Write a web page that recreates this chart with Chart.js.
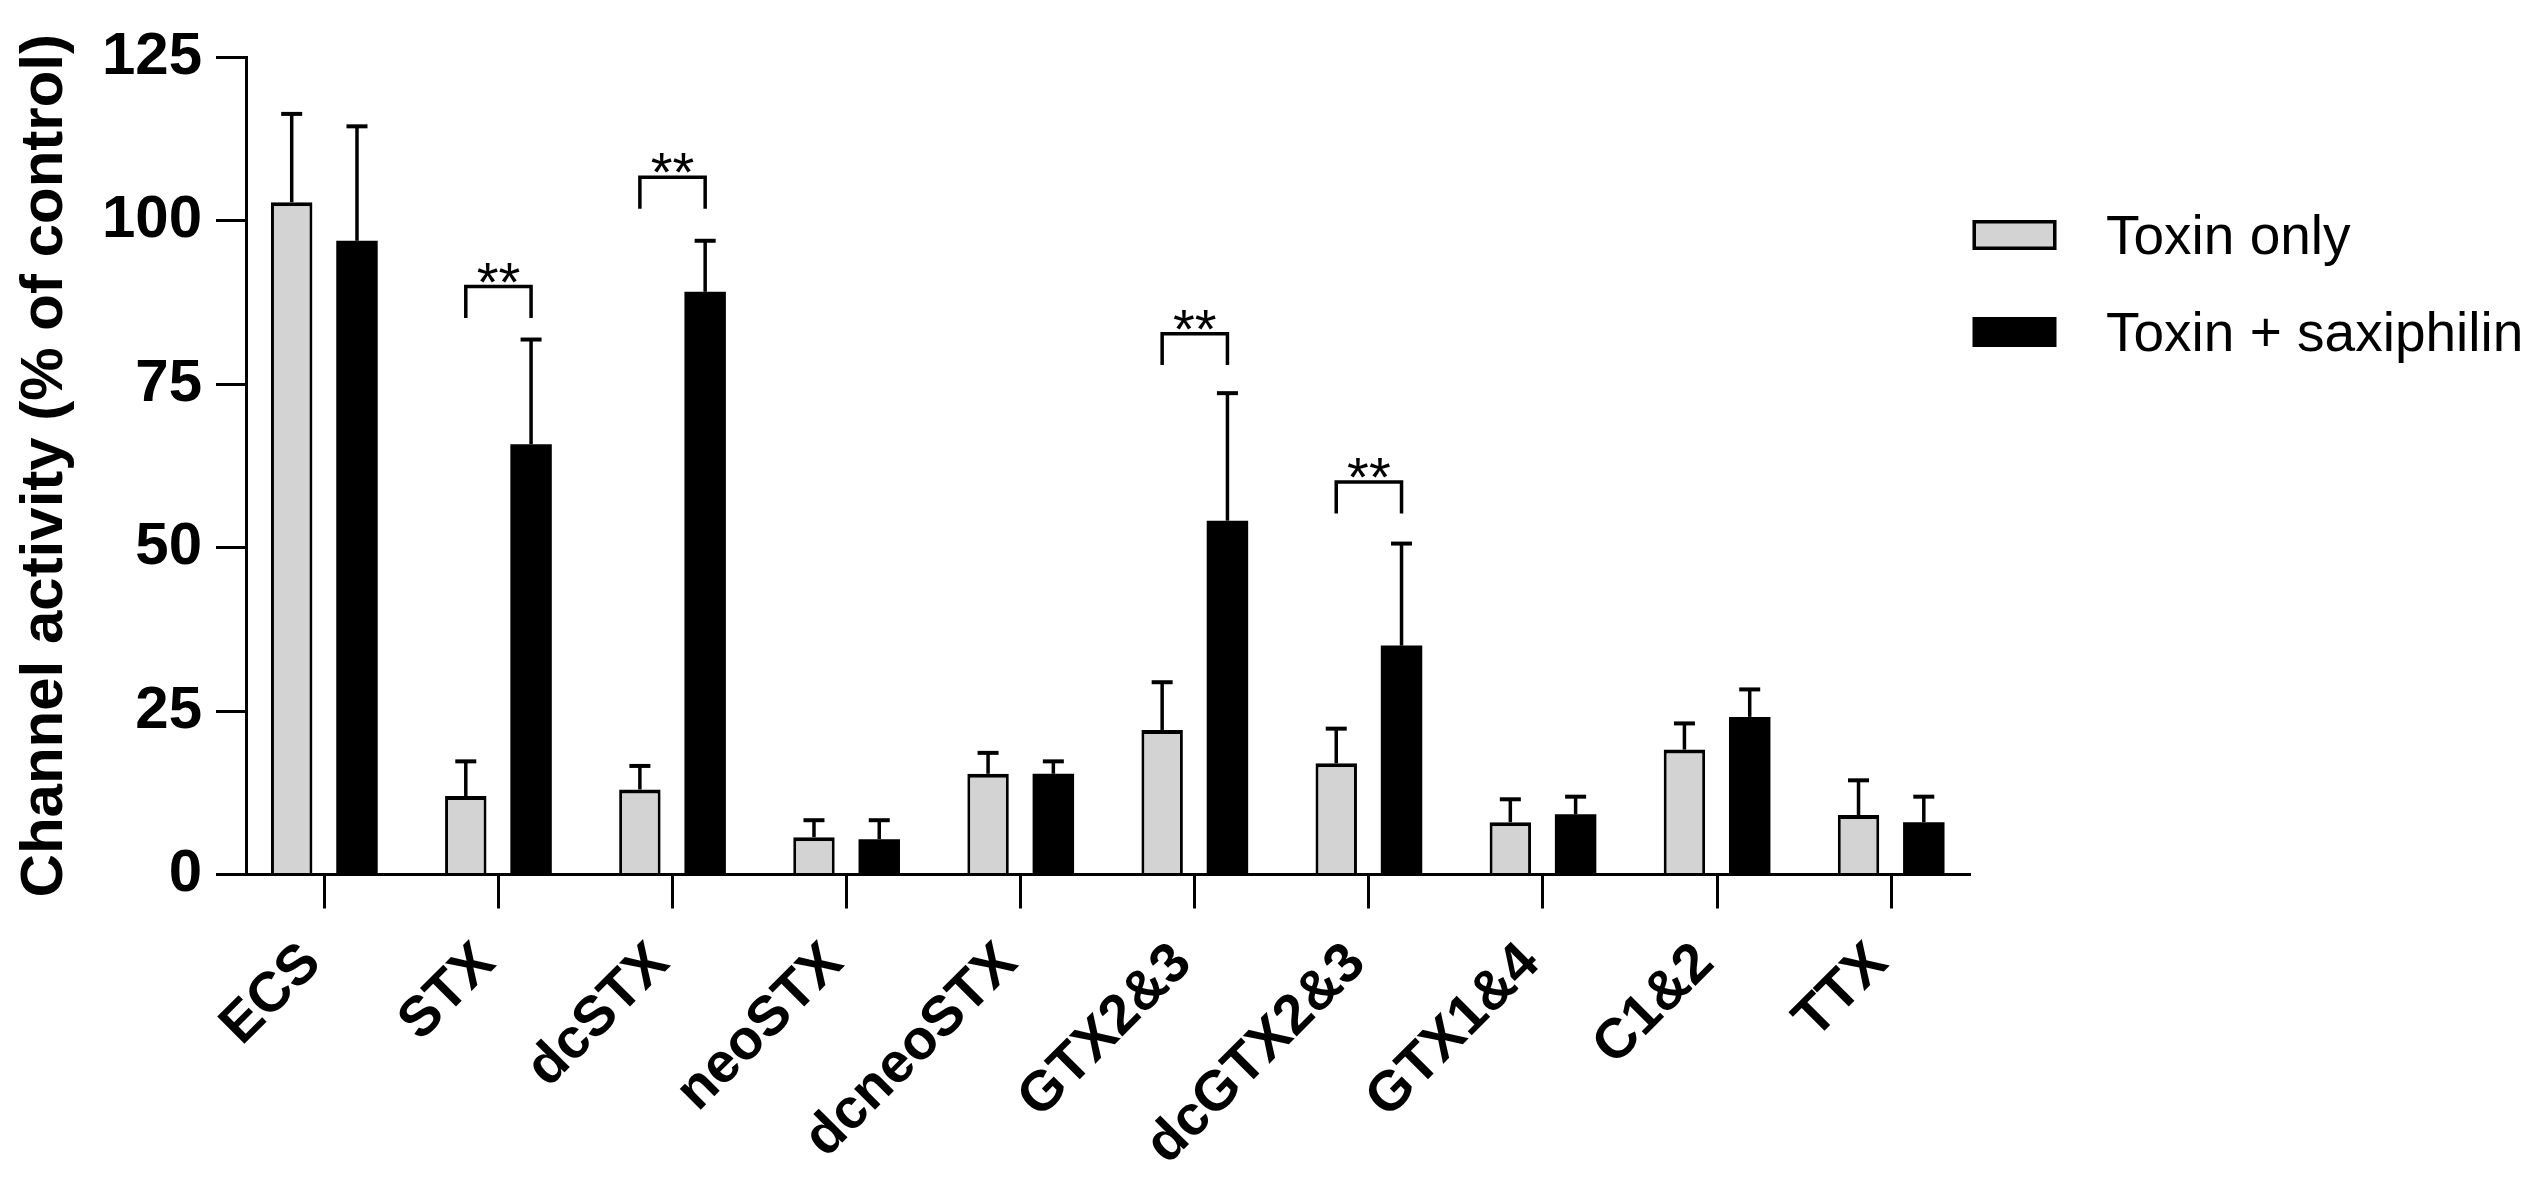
<!DOCTYPE html>
<html>
<head>
<meta charset="utf-8">
<script src="https://cdn.jsdelivr.net/npm/chart.js@4.4.1/dist/chart.umd.min.js"></script>
<style>
  html, body { margin: 0; padding: 0; background: #fff; }
  canvas { display: block; }
</style>
</head>
<body>
<canvas id="barChart" width="2545" height="1178"></canvas>
<script>
// values (% of control), error = upper SEM
var categories = ['ECS','STX','dcSTX','neoSTX','dcneoSTX','GTX2&3','dcGTX2&3','GTX1&4','C1&2','TTX']
var toxinOnly = [102.8, 12.0, 13.0, 5.7, 15.4, 22.1, 17.0, 8.0, 19.1, 9.1]
var toxinOnlyErr = [13.5, 5.3, 3.6, 2.6, 3.2, 7.3, 5.3, 3.5, 4.0, 5.3]
var toxinSax = [96.9, 65.8, 89.1, 5.4, 15.4, 54.1, 35.0, 9.2, 24.1, 8.0]
var toxinSaxErr = [17.5, 16.0, 7.8, 2.9, 1.9, 19.5, 15.6, 2.7, 4.2, 3.9]
var yTicks = [0, 25, 50, 75, 100, 125]

// significance brackets
var sigCategories = ['STX','dcSTX','GTX2&3','dcGTX2&3']
var sigTops = [89.9, 106.6, 82.7, 60.0]
var sigLabels = ['**','**','**','**']
var sigDrop = 4.8

const seriesLabels = ['Toxin only', 'Toxin + saxiphilin']
const lightGray = '#d3d3d3'
const FONT = "'Liberation Sans', Arial, sans-serif"
Chart.defaults.font.family = FONT
Chart.defaults.color = '#000'

const toPoints = function(arr){
	return arr.map((v, i) => ({x: i, y: v}))
}

const errorBarPlugin = {
	id: 'errorBars',
	afterDatasetsDraw(chart){
		const ctx = chart.ctx
		const y = chart.scales.y
		const errs = [toxinOnlyErr, toxinSaxErr]
		ctx.save()
		ctx.strokeStyle = '#000'
		ctx.lineCap = 'butt'
		errs.forEach((err, d) => {
			const meta = chart.getDatasetMeta(d)
			meta.data.forEach((bar, i) => {
				const val = chart.data.datasets[d].data[i].y
				const top = y.getPixelForValue(val + err[i])
				ctx.lineWidth = 3.5
				ctx.beginPath()
				ctx.moveTo(bar.x, bar.y)
				ctx.lineTo(bar.x, top)
				ctx.stroke()
				ctx.lineWidth = 4
				ctx.beginPath()
				ctx.moveTo(bar.x - 10.5, top)
				ctx.lineTo(bar.x + 10.5, top)
				ctx.stroke()
			})
		})
		ctx.restore()
	}
}

const bracketPlugin = {
	id: 'sigBrackets',
	afterDatasetsDraw(chart){
		const ctx = chart.ctx
		const y = chart.scales.y
		const m0 = chart.getDatasetMeta(0)
		const m1 = chart.getDatasetMeta(1)
		ctx.save()
		ctx.strokeStyle = '#000'
		ctx.fillStyle = '#000'
		ctx.lineWidth = 3.5
		ctx.lineJoin = 'miter'
		ctx.font = '56px ' + FONT
		ctx.textAlign = 'center'
		ctx.textBaseline = 'alphabetic'
		sigCategories.forEach((cat, k) => {
			const i = categories.indexOf(cat)
			const x1 = m0.data[i].x
			const x2 = m1.data[i].x
			const yt = y.getPixelForValue(sigTops[k])
			const yb = y.getPixelForValue(sigTops[k] - sigDrop)
			ctx.beginPath()
			ctx.moveTo(x1, yb)
			ctx.lineTo(x1, yt)
			ctx.lineTo(x2, yt)
			ctx.lineTo(x2, yb)
			ctx.stroke()
			ctx.fillText(sigLabels[k], (x1 + x2) / 2, yt + 14)
		})
		ctx.restore()
	}
}

const legendPlugin = {
	id: 'sideLegend',
	afterDraw(chart){
		const ctx = chart.ctx
		const x0 = 1972.5
		const rows = [220, 317]
		ctx.save()
		chart.data.datasets.forEach((ds, d) => {
			const top = rows[d]
			ctx.fillStyle = ds.backgroundColor
			ctx.fillRect(x0, top, 84, 30)
			if (d === 0) {
				ctx.strokeStyle = '#000'
				ctx.lineWidth = 3.5
				ctx.strokeRect(x0 + 1.75, top + 1.75, 84 - 3.5, 30 - 3.5)
			}
			ctx.fillStyle = '#000'
			ctx.font = '55px ' + FONT
			ctx.textAlign = 'left'
			ctx.textBaseline = 'alphabetic'
			ctx.fillText(ds.label, 2106, top + 34)
		})
		ctx.restore()
	}
}

new Chart(document.getElementById('barChart'), {
	type: 'bar',
	data: {
		datasets: [{
			label: seriesLabels[0],
			data: toPoints(toxinOnly),
			backgroundColor: lightGray,
			borderColor: '#000',
			borderWidth: {top: 4, left: 3, right: 3, bottom: 0},
			borderSkipped: 'start'
		},
		{
			label: seriesLabels[1],
			data: toPoints(toxinSax),
			backgroundColor: '#000',
			borderWidth: 0
		}]
	},
	options: {
		responsive: false,
		animation: false,
		devicePixelRatio: 1,
		categoryPercentage: 0.75,
		barPercentage: 0.635,
		layout: {padding: {left: 0, top: 57, right: 575.5, bottom: 0}},
		plugins: {
			legend: {display: false},
			tooltip: {enabled: false}
		},
		scales: {
			x: {
				type: 'linear',
				offset: false,
				min: -0.45,
				max: 9.45,
				afterBuildTicks: function(axis){
					axis.ticks = categories.map((c, i) => ({value: i}))
				},
				afterFit: function(axis){ axis.height = 1178 - 874.5 },
				grid: {drawOnChartArea: false, drawTicks: true, tickLength: 34, lineWidth: 3, color: '#000', offset: false},
				border: {display: true, color: '#000', width: 3},
				ticks: {
					autoSkip: false,
					minRotation: 45,
					maxRotation: 45,
					padding: 22,
					labelOffset: -12,
					color: '#000',
					font: {size: 56, weight: 'bold'},
					callback: function(value){ return categories[value] }
				}
			},
			y: {
				min: 0,
				max: 125,
				afterBuildTicks: function(axis){
					axis.ticks = yTicks.map(v => ({value: v}))
				},
				afterFit: function(axis){ axis.width = 246 },
				grid: {drawOnChartArea: false, drawTicks: true, tickLength: 30, lineWidth: 3, color: '#000'},
				border: {display: true, color: '#000', width: 3},
				ticks: {
					padding: 14,
					color: '#000',
					font: {size: 60, weight: 'bold'}
				},
				title: {
					display: true,
					text: 'Channel activity (% of control)',
					color: '#000',
					font: {size: 60, weight: 'bold'},
					padding: {top: 9, bottom: 0}
				}
			}
		}
	},
	plugins: [errorBarPlugin, bracketPlugin, legendPlugin]
})
</script>
</body>
</html>
